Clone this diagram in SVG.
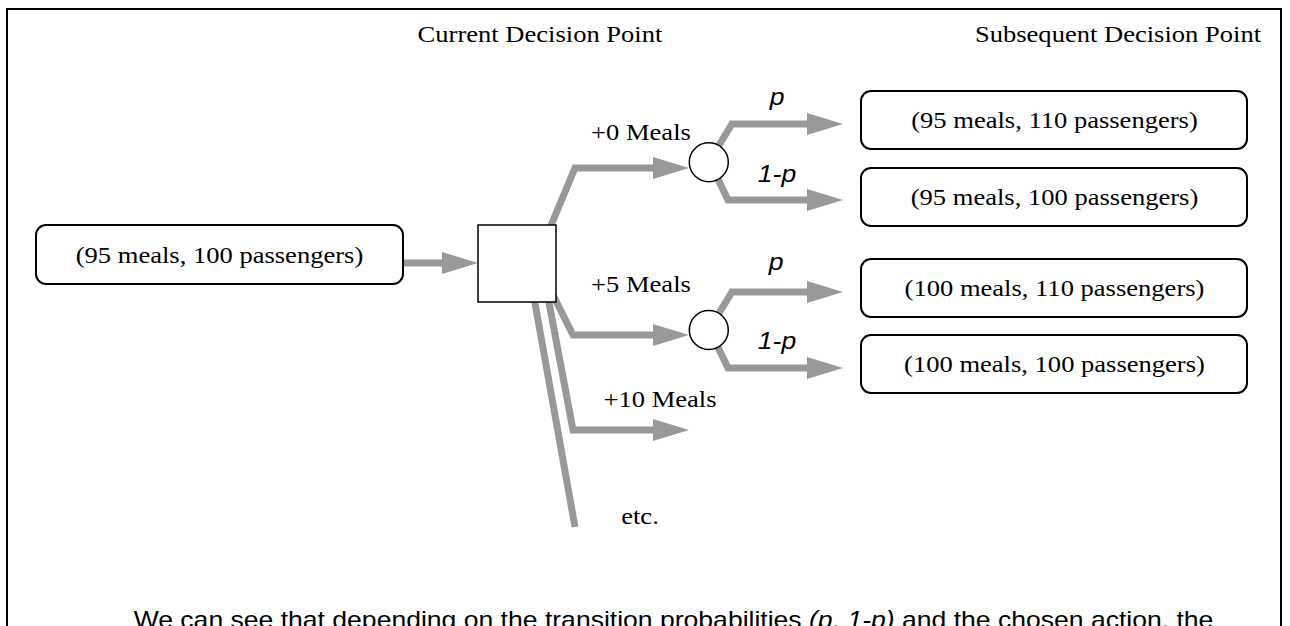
<svg xmlns="http://www.w3.org/2000/svg" width="1290" height="626" viewBox="0 0 1290 626">
<style>
.bg{fill:#fff}
.frame{fill:none;stroke:#000;stroke-width:2}
.box{fill:#fff;stroke:#000;stroke-width:2}
.node{fill:#fff;stroke:#000;stroke-width:1.5}
.conn{fill:none;stroke:#999;stroke-width:7;stroke-linejoin:miter}
.serif{font-family:"Liberation Serif","Times New Roman",serif;font-size:23px;fill:#000;text-anchor:middle}
.sans{font-family:"Liberation Sans",Arial,sans-serif;font-size:23px;fill:#000;text-anchor:middle}
.it{font-style:italic}
.wide{transform-box:fill-box;transform-origin:center;transform:scaleX(1.155)}
</style>
<defs>
<marker id="ah" markerUnits="userSpaceOnUse" markerWidth="36" markerHeight="22" refX="6" refY="11" orient="auto">
<path d="M0,0 L36,11 L0,22 Z" fill="#999"/>
</marker>
</defs>
<rect class="bg" x="0" y="0" width="1290" height="626"/>
<path class="frame" d="M7,626 V9 H1281 V626"/>

<text class="serif wide" x="540" y="42.5">Current Decision Point</text>
<text class="serif wide" x="1118" y="42.5">Subsequent Decision Point</text>

<g id="connectors">
<path class="conn" d="M403,263 H448" marker-end="url(#ah)"/>
<path class="conn" d="M547,235 L575,168 H659" marker-end="url(#ah)"/>
<path class="conn" d="M553,295 L573,335 H659" marker-end="url(#ah)"/>
<path class="conn" d="M547,292 L573,430 H659" marker-end="url(#ah)"/>
<path class="conn" d="M533,292 L575,527"/>
<path class="conn" d="M716,150 L732,124 H813" marker-end="url(#ah)"/>
<path class="conn" d="M715,173 L728,200 H813" marker-end="url(#ah)"/>
<path class="conn" d="M716,318 L732,292 H813" marker-end="url(#ah)"/>
<path class="conn" d="M715,341 L728,368 H813" marker-end="url(#ah)"/>
</g>

<g id="start-state">
<rect class="box" x="36" y="225" width="367" height="59" rx="10"/>
<text class="serif wide" x="219.5" y="262.8">(95 meals, 100 passengers)</text>
</g>

<g id="decision">
<rect class="node" x="478" y="225" width="78" height="77"/>
</g>

<g id="chance-1">
<circle class="node" cx="708.8" cy="162.2" r="19.5"/>
</g>
<g id="chance-2">
<circle class="node" cx="708.8" cy="330" r="19.5"/>
</g>

<g id="labels">
<text class="serif wide" x="641" y="140">+0 Meals</text>
<text class="serif wide" x="641" y="292.5">+5 Meals</text>
<text class="serif wide" x="660" y="406.7">+10 Meals</text>
<text class="serif wide" x="640" y="524">etc.</text>
<text class="sans it wide" x="777" y="105">p</text>
<text class="sans it wide" x="777" y="182.5">1-p</text>
<text class="sans it wide" x="776" y="270.5">p</text>
<text class="sans it wide" x="777" y="349">1-p</text>
</g>

<g id="state-95-110">
<rect class="box" x="861" y="91" width="386" height="58" rx="10"/>
<text class="serif wide" x="1054.5" y="128.3">(95 meals, 110 passengers)</text>
</g>
<g id="state-95-100">
<rect class="box" x="861" y="168" width="386" height="58" rx="10"/>
<text class="serif wide" x="1054.5" y="205.3">(95 meals, 100 passengers)</text>
</g>
<g id="state-100-110">
<rect class="box" x="861" y="259" width="386" height="58" rx="10"/>
<text class="serif wide" x="1054.5" y="296.3">(100 meals, 110 passengers)</text>
</g>
<g id="state-100-100">
<rect class="box" x="861" y="335" width="386" height="58" rx="10"/>
<text class="serif wide" x="1054.5" y="372.3">(100 meals, 100 passengers)</text>
</g>

<text class="sans wide" x="673.5" y="628">We can see that depending on the transition probabilities <tspan class="it">(p, 1-p)</tspan> and the chosen action, the</text>
</svg>
